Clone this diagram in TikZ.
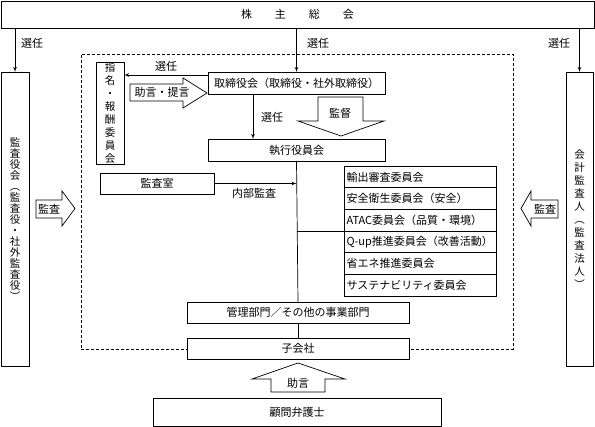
\documentclass[tikz,border=0pt]{standalone}
\usepackage{fontspec}
\newfontfamily\jpfont{Noto Sans CJK JP}
\usepackage{tikz}
\usetikzlibrary{shapes.geometric, arrows}

\begin{document}
\begin{tikzpicture}[
    x=1pt, y=-1pt, line width=0.7pt,
    block/.style={rectangle, draw, fill=white, inner sep=0pt, outer sep=0pt, font=\jpfont\fontsize{11}{13}\selectfont},
    vblock/.style={block, align=center},
    comm/.style={block, minimum width=152pt, minimum height=21.67pt, text width=147pt, align=left},
    bigarrow/.style={draw, fill=white},
    note/.style={font=\jpfont\fontsize{11}{13}\selectfont, inner sep=0pt},
    line/.style={draw, -latex'}
]
    \useasboundingbox (0,0) rectangle (595,427);

    \node [draw, dashed, dash pattern=on 3pt off 2pt, inner sep=0pt, minimum width=432pt, minimum height=295pt] (group) at (297,201.5) {};

    \node [block, minimum width=593pt, minimum height=27pt] (soukai) at (297.5,14.5) {株\hspace{23pt}主\hspace{23pt}総\hspace{23pt}会};
    \node [vblock, minimum width=28pt, minimum height=294pt, font=\jpfont\fontsize{10.5}{11}\selectfont] (kansayaku) at (15,219) {監\\査\\役\\会\\︵\\監\\査\\役\\・\\社\\外\\監\\査\\役\\︶};
    \node [vblock, minimum width=27pt, minimum height=294pt, font=\jpfont\fontsize{10.5}{13}\selectfont] (kaikei) at (579.5,219) {会\\計\\監\\査\\人\\︵\\監\\査\\法\\人\\︶};
    \node [vblock, minimum width=28pt, minimum height=102pt, font=\jpfont\fontsize{10.5}{13}\selectfont] (shimei) at (110,113) {指\\名\\・\\報\\酬\\委\\員\\会};
    \node [block, minimum width=177pt, minimum height=22pt] (torishimari) at (296.5,83) {取締役会（取締役・社外取締役）};
    \node [block, minimum width=177pt, minimum height=22pt] (shikko) at (296.5,150) {執行役員会};
    \node [block, minimum width=114pt, minimum height=21pt] (kansashitsu) at (157,183.5) {監査室};
    \foreach \t [count=\i] in {輸出審査委員会, 安全衛生委員会（安全）, ATAC委員会（品質・環境）, Q-up推進委員会（改善活動）, 省エネ推進委員会, サステナビリティ委員会}
        \node [comm] (c\i) at (420, 166+21.67*\i-10.83) {\t};
    \node [block, minimum width=222pt, minimum height=21pt] (kanri) at (298,312.5) {管理部門／その他の事業部門};
    \node [block, minimum width=222pt, minimum height=21pt] (kogaisha) at (298,348.5) {子会社};
    \node [block, minimum width=288pt, minimum height=28pt] (komon) at (297,412) {顧問弁護士};

    \path [line] (kansayaku.north |- soukai.south) -- (kansayaku.north);
    \path [line] (torishimari.north |- soukai.south) -- (torishimari.north);
    \path [line] (kaikei.north |- soukai.south) -- (kaikei.north);
    \node [note] (sen1) at (32,43) {選任};
    \node [note] (sen2) at (318,43) {選任};
    \node [note] (sen3) at (559,43) {選任};

    \path [line] ([yshift=8pt]torishimari.west) -- ([yshift=8pt]torishimari.west -| shimei.east);
    \node [note] (sen4) at (166,66) {選任};
    \path [line] ([xshift=-43.5pt]torishimari.south) -- ([xshift=-43.5pt]torishimari.south |- shikko.north);
    \node [note] (sen5) at (272,117) {選任};

    \path [line] (kansashitsu.east) -- (kansashitsu.east -| shikko.south);
    \node [note] (naibu) at (254,193) {内部監査};
    \path [draw] (shikko.south) -- (kanri.north);
    \path [draw] (kanri.south) -- (kogaisha.north);
    \path [draw] (shikko.south |- c3.south west) -- (c3.south west);

    \draw [bigarrow] (130,84) -- (183,84) -- (183,78) -- (207,93) -- (183,108) -- (183,101) -- (130,101) -- cycle;
    \node [note] (jogen1) at (162,92.5) {助言・提言};
    \draw [bigarrow] (318,97) -- (363,97) -- (363,121) -- (384,121) -- (341,136) -- (298,121) -- (318,121) -- cycle;
    \node [note] (kantoku) at (340,113) {監督};
    \draw [bigarrow] (36,200) -- (62,200) -- (62,191) -- (75,208.5) -- (62,226) -- (62,218) -- (36,218) -- cycle;
    \node [note] (kansa1) at (49,209) {監査};
    \draw [bigarrow] (558,200) -- (531,200) -- (531,191) -- (521,208.5) -- (531,226) -- (531,218) -- (558,218) -- cycle;
    \node [note] (kansa2) at (545,209) {監査};
    \draw [bigarrow] (271,392) -- (271,379) -- (252,379) -- (298,363) -- (345,379) -- (325,379) -- (325,392) -- cycle;
    \node [note] (jogen2) at (298,383) {助言};
\end{tikzpicture}
\end{document}
